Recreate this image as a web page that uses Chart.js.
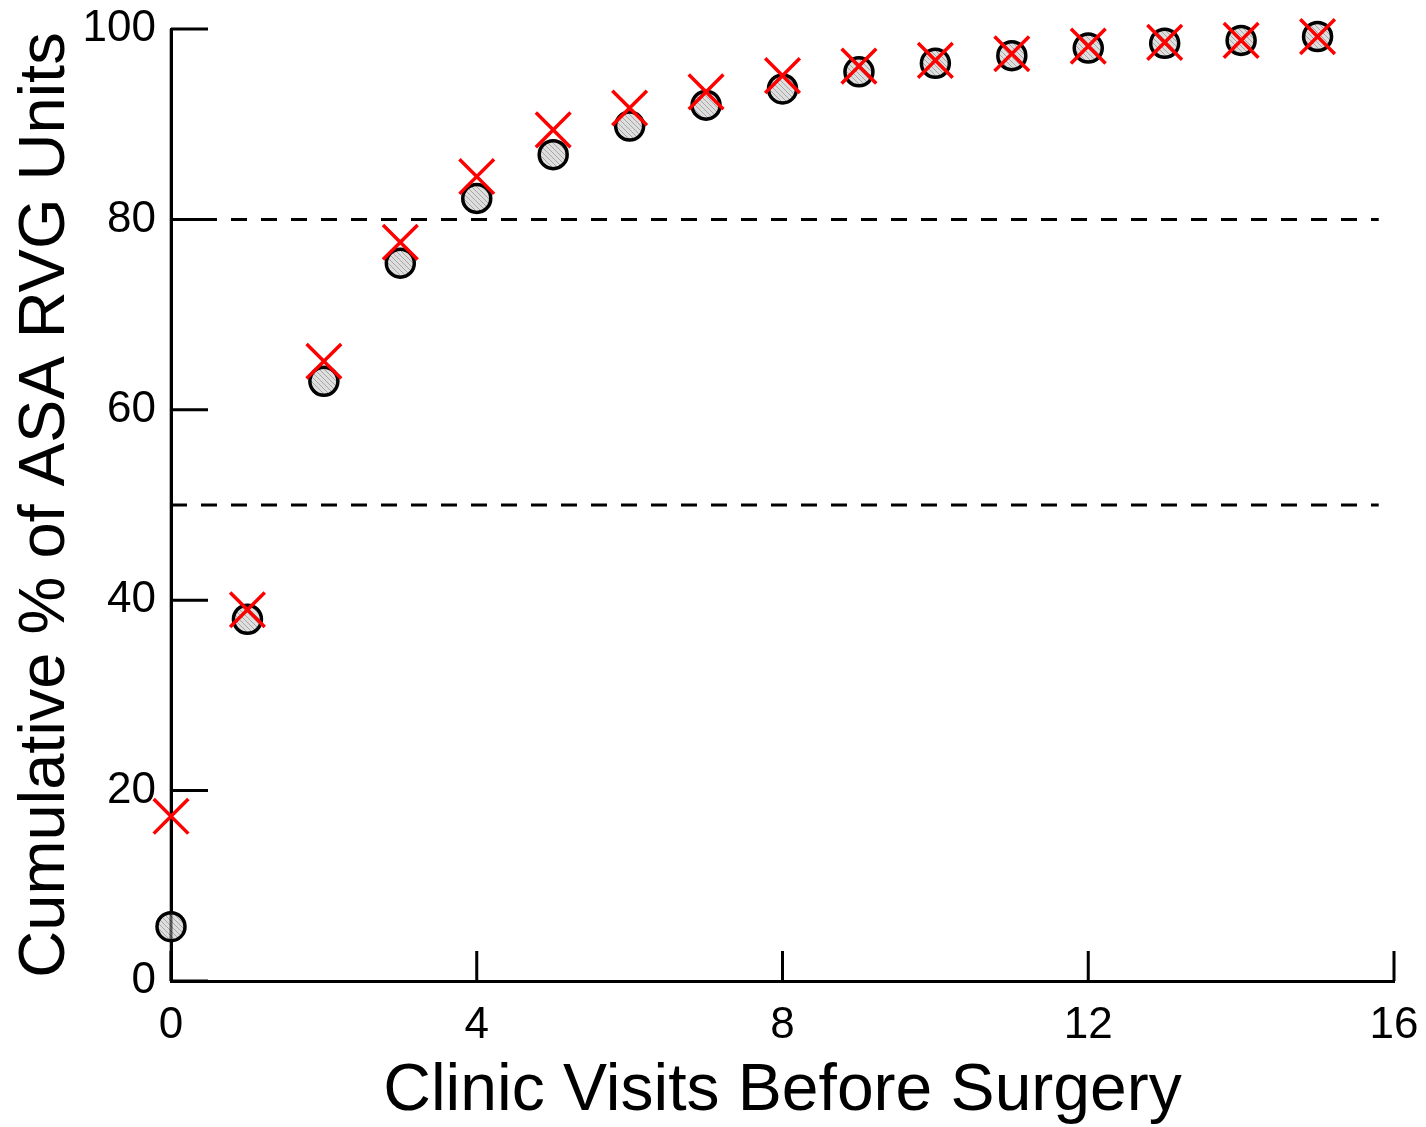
<!DOCTYPE html>
<html><head><meta charset="utf-8">
<script src="https://cdn.jsdelivr.net/npm/chart.js@4/dist/chart.umd.min.js"></script>
<style>html,body{margin:0;padding:0;background:#fff}#wrap{width:1426px;height:1127px}</style>
</head><body><div id="wrap"><canvas id="c" width="1426" height="1127"></canvas></div>
<script>
const visits = [0,1,2,3,4,5,6,7,8,9,10,11,12,13,14,15];
const circleValues = [5.7,38.0,63.0,75.4,82.2,86.8,89.8,92.0,93.7,95.5,96.4,97.2,98.0,98.5,98.8,99.2];
const crossValues = [17.3,39.0,65.1,77.6,84.5,89.4,91.7,93.4,95.1,96.1,96.7,97.4,98.2,98.6,98.8,99.2];
const referenceLevels = [80, 50];
const referenceSpan = [0, 15.8];
const xTicks = [0,4,8,12,16];
const yTicks = [0,20,40,60,80,100];
const xTitle = 'Clinic Visits Before Surgery';
const yTitle = 'Cumulative % of ASA RVG Units';

const FONT = "'Liberation Sans', Arial, sans-serif";

// hatched fill pattern
const pc = document.createElement('canvas');
pc.width = 5; pc.height = 5;
const pctx = pc.getContext('2d');
pctx.fillStyle = '#dedede';
pctx.fillRect(0,0,5,5);
pctx.strokeStyle = '#a6a6a6';
pctx.lineWidth = 1;
pctx.beginPath();
pctx.moveTo(0,0); pctx.lineTo(5,5);
pctx.moveTo(-1,4); pctx.lineTo(1,6);
pctx.moveTo(4,-1); pctx.lineTo(6,1);
pctx.stroke();
const ctx = document.getElementById('c').getContext('2d');
const hatch = ctx.createPattern(pc, 'repeat');

const datasets = [];
datasets.push({
  label: 'cross', data: visits.map((v,i)=>({x:v, y:crossValues[i]})),
  pointStyle: 'crossRot', pointRadius: 24.5, borderColor: '#ff0000', backgroundColor: '#ff0000',
  pointBorderWidth: 3.5, showLine: false, clip: false, order: 0
});
datasets.push({
  label: 'circle', data: visits.map((v,i)=>({x:v, y:circleValues[i]})),
  pointStyle: 'circle', pointRadius: 14, borderColor: '#000', backgroundColor: hatch,
  pointBorderWidth: 3.5, showLine: false, clip: false, order: 1
});
referenceLevels.forEach(l => datasets.push({
  label: 'ref' + l, data: referenceSpan.map(x => ({x, y:l})),
  showLine: true, pointRadius: 0, borderColor: '#000', borderWidth: 3,
  borderDash: [16,14], fill: false, order: 2
}));

const tickMarks = {
  id: 'tickMarks',
  beforeDatasetsDraw(chart) {
    const c = chart.ctx, xs = chart.scales.x, ys = chart.scales.y, a = chart.chartArea;
    c.save();
    c.strokeStyle = '#000'; c.lineWidth = 3; c.lineCap = 'butt';
    c.beginPath();
    yTicks.forEach(t => { const y = ys.getPixelForValue(t); c.moveTo(a.left, y); c.lineTo(a.left + 37, y); });
    xTicks.forEach(t => { const x = xs.getPixelForValue(t); c.moveTo(x, a.bottom); c.lineTo(x, a.bottom - 30); });
    c.stroke();
    c.restore();
  },
  afterDatasetDraw(chart, args) {
    if (chart.data.datasets[args.index].label !== 'circle') return;
    const c = chart.ctx, a = chart.chartArea;
    c.save();
    c.strokeStyle = 'rgba(0,0,0,0.6)'; c.lineWidth = 3;
    c.beginPath(); c.moveTo(a.left, a.top); c.lineTo(a.left, a.bottom); c.stroke();
    c.restore();
  }
};

function zeroPad(s) { s.paddingTop = 0; s.paddingBottom = 0; s.paddingLeft = 0; s.paddingRight = 0; }

new Chart(ctx, {
  type: 'scatter',
  data: { datasets },
  plugins: [tickMarks],
  options: {
    responsive: false, animation: false, events: [], devicePixelRatio: 1,
    layout: { padding: { left: 0, top: 29, right: 32, bottom: 0 } },
    plugins: { legend: { display: false }, tooltip: { enabled: false } },
    scales: {
      x: {
        type: 'linear', min: 0, max: 16,
        afterBuildTicks: s => { s.ticks = xTicks.map(v => ({ value: v })); },
        afterFit: s => { s.height = 146; zeroPad(s); },
        grid: { display: false, drawTicks: false },
        border: { display: true, color: '#000', width: 3 },
        ticks: { color: '#000', font: { family: FONT, size: 44 }, padding: 18, maxRotation: 0, callback: v => String(v) },
        title: { display: true, text: xTitle, color: '#000', font: { family: FONT, size: 66 }, padding: { top: 0, bottom: -4 } }
      },
      y: {
        type: 'linear', min: 0, max: 100,
        afterBuildTicks: s => { s.ticks = yTicks.map(v => ({ value: v })); },
        afterFit: s => { s.width = 171; zeroPad(s); },
        grid: { display: false, drawTicks: false },
        border: { display: true, color: '#000', width: 3 },
        ticks: { color: '#000', font: { family: FONT, size: 44 }, padding: 15, callback: v => String(v) },
        title: { display: true, text: yTitle, color: '#000', font: { family: FONT, size: 65 }, padding: { top: 7, bottom: 0 } }
      }
    }
  }
});
</script></body></html>
